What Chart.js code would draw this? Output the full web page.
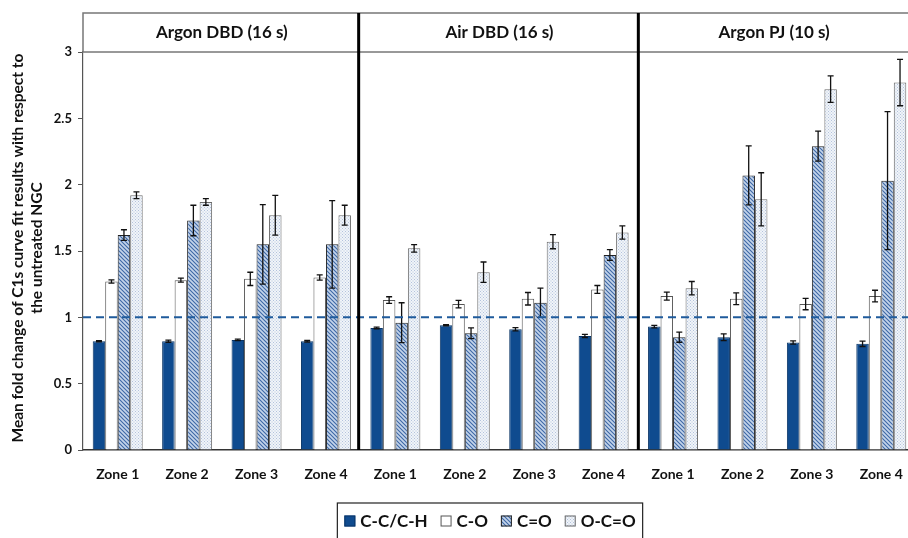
<!DOCTYPE html>
<html>
<head>
<meta charset="utf-8">
<script src="https://cdn.jsdelivr.net/npm/chart.js@4.4.1/dist/chart.umd.min.js"></script>
<style>
  html, body { margin: 0; padding: 0; background: #fff; overflow: hidden; }
  #contenedor { width: 918px; height: 538px; }
</style>
</head>
<body>
<div id="contenedor"><canvas id="grafica"></canvas></div>
<script>
// categorias (3 paneles x 4 zonas)
const zonas = ["Zone 1", "Zone 2", "Zone 3", "Zone 4",
               "Zone 1", "Zone 2", "Zone 3", "Zone 4",
               "Zone 1", "Zone 2", "Zone 3", "Zone 4"];
const paneles = ["Argon DBD (16 s)", "Air DBD (16 s)", "Argon PJ (10 s)"];
const yTicks = [0, 0.5, 1, 1.5, 2, 2.5, 3];

// valores
const ccch    = [0.82, 0.82, 0.83, 0.82, 0.92, 0.94, 0.91, 0.86, 0.93, 0.85, 0.81, 0.80];
const ccchErr = [0.005, 0.008, 0.005, 0.006, 0.006, 0.005, 0.012, 0.012, 0.01, 0.025, 0.012, 0.02];
const co      = [1.27, 1.28, 1.29, 1.30, 1.13, 1.10, 1.14, 1.21, 1.16, 1.14, 1.10, 1.16];
const coErr   = [0.012, 0.015, 0.05, 0.02, 0.025, 0.028, 0.047, 0.03, 0.03, 0.044, 0.043, 0.044];
const cdo     = [1.62, 1.73, 1.55, 1.55, 0.96, 0.88, 1.11, 1.47, 0.85, 2.07, 2.29, 2.03];
const cdoErr  = [0.04, 0.115, 0.3, 0.33, 0.15, 0.04, 0.11, 0.04, 0.038, 0.223, 0.113, 0.52];
const ocdo    = [1.92, 1.87, 1.77, 1.77, 1.52, 1.34, 1.57, 1.64, 1.22, 1.89, 2.72, 2.77];
const ocdoErr = [0.025, 0.025, 0.15, 0.075, 0.028, 0.077, 0.053, 0.05, 0.05, 0.2, 0.1, 0.175];
const referencia = 1;

const fuente = "Lato, 'Open Sans', sans-serif";

// patrones de relleno
function rayado() {
  const c = document.createElement("canvas");
  c.width = 4; c.height = 4;
  const g = c.getContext("2d");
  g.fillStyle = "#c4d4ea";
  g.fillRect(0, 0, 4, 4);
  g.strokeStyle = "#3d68a6";
  g.lineWidth = 1.1;
  g.beginPath();
  g.moveTo(-1, -1); g.lineTo(5, 5);
  g.moveTo(-1, 3); g.lineTo(1, 5);
  g.moveTo(3, -1); g.lineTo(5, 1);
  g.stroke();
  return g.createPattern(c, "repeat");
}
function punteado() {
  const c = document.createElement("canvas");
  c.width = 3; c.height = 3;
  const g = c.getContext("2d");
  g.fillStyle = "#f1f4f9";
  g.fillRect(0, 0, 3, 3);
  g.fillStyle = "#b3c3dc";
  g.fillRect(0, 0, 1, 1);
  g.fillRect(1.5, 1.5, 1, 1);
  return g.createPattern(c, "repeat");
}

const series = [
  { label: "C-C/C-H", data: ccch, err: ccchErr, fill: "#0f4b8f", border: "#0a3566" },
  { label: "C-O", data: co, err: coErr, fill: "#ffffff", border: "#555555" },
  { label: "C=O", data: cdo, err: cdoErr, fill: rayado(), border: "#222222" },
  { label: "O-C=O", data: ocdo, err: ocdoErr, fill: punteado(), border: "#6a6a6a" }
];

const extras = {
  id: "extras",
  afterDatasetsDraw(chart) {
    const ctx = chart.ctx, y = chart.scales.y, area = chart.chartArea;
    // barras de error
    ctx.save();
    ctx.strokeStyle = "#111";
    ctx.lineWidth = 1.3;
    series.forEach((s, i) => {
      const meta = chart.getDatasetMeta(i);
      meta.data.forEach((bar, j) => {
        const hi = y.getPixelForValue(s.data[j] + s.err[j]);
        const lo = y.getPixelForValue(s.data[j] - s.err[j]);
        ctx.beginPath();
        ctx.moveTo(bar.x, hi); ctx.lineTo(bar.x, lo);
        ctx.moveTo(bar.x - 3, hi); ctx.lineTo(bar.x + 3, hi);
        ctx.moveTo(bar.x - 3, lo); ctx.lineTo(bar.x + 3, lo);
        ctx.stroke();
      });
    });
    // linea punteada en 1
    const yr = y.getPixelForValue(referencia);
    ctx.strokeStyle = "#1f5b9c";
    ctx.lineWidth = 2;
    ctx.setLineDash([8, 5]);
    ctx.beginPath();
    ctx.moveTo(area.left, yr); ctx.lineTo(area.right, yr);
    ctx.stroke();
    ctx.restore();
  },
  afterDraw(chart) {
    const ctx = chart.ctx, x = chart.scales.x, area = chart.chartArea;
    const top = 13;
    ctx.save();
    // cajas de encabezado
    ctx.strokeStyle = "#777";
    ctx.lineWidth = 1.5;
    ctx.strokeRect(area.left, top, area.right - area.left + 5, area.top - top);
    const cortes = [area.left];
    for (let k = 1; k < 3; k++) {
      cortes.push((x.getPixelForValue(k * 4 - 1) + x.getPixelForValue(k * 4)) / 2);
    }
    cortes.push(area.right);
    ctx.fillStyle = "#111";
    ctx.font = "bold 17px " + fuente;
    ctx.textAlign = "center";
    ctx.textBaseline = "middle";
    paneles.forEach((p, k) => {
      ctx.fillText(p, (cortes[k] + cortes[k + 1]) / 2 - (k === 2 ? 3 : 0), (top + area.top) / 2);
    });
    // divisiones gruesas
    ctx.strokeStyle = "#000";
    ctx.lineWidth = 3;
    ctx.beginPath();
    [cortes[1] - 2, cortes[2]].forEach(cx => {
      ctx.moveTo(cx, top); ctx.lineTo(cx, area.bottom);
    });
    ctx.stroke();
    // titulo eje y
    ctx.save();
    ctx.translate(0, 248);
    ctx.rotate(-Math.PI / 2);
    ctx.font = "bold 15.5px " + fuente;
    ctx.fillText("Mean fold change of C1s curve fit results with respect to", 0, 18);
    ctx.fillText("the untreated NGC", 0, 37);
    ctx.restore();
    // leyenda
    ctx.font = "bold 17px " + fuente;
    ctx.textAlign = "left";
    const caja = 11, sep = 5, hueco = 13;
    let ancho = 0;
    series.forEach(s => { ancho += caja + sep + ctx.measureText(s.label).width + hueco; });
    ancho -= hueco;
    let lx = 490 - ancho / 2;
    const ly = 521;
    ctx.strokeStyle = "#222";
    ctx.lineWidth = 1.2;
    ctx.strokeRect(lx - 7, 503, ancho + 14, 40);
    series.forEach(s => {
      ctx.fillStyle = s.fill;
      ctx.fillRect(lx, ly - caja / 2, caja, caja);
      ctx.strokeStyle = s.border;
      ctx.lineWidth = 1;
      ctx.strokeRect(lx + 0.5, ly - caja / 2 + 0.5, caja - 1, caja - 1);
      ctx.fillStyle = "#111";
      ctx.fillText(s.label, lx + caja + sep, ly + 1);
      lx += caja + sep + ctx.measureText(s.label).width + hueco;
    });
    ctx.restore();
  }
};

new Chart("grafica", {
  type: "bar",
  data: {
    labels: zonas,
    datasets: series.map(s => ({
      label: s.label,
      data: s.data,
      backgroundColor: s.fill,
      borderColor: s.border,
      borderWidth: 1,
      barPercentage: 1,
      categoryPercentage: 0.72
    }))
  },
  options: {
    responsive: true,
    maintainAspectRatio: false,
    animation: false,
    layout: { padding: { top: 52, bottom: 53, left: 0, right: 2 } },
    plugins: { legend: { display: false }, tooltip: { enabled: false } },
    scales: {
      x: {
        grid: { display: false },
        border: { display: true, color: "#333", width: 1.5 },
        ticks: { color: "#111", font: { family: fuente, size: 14, weight: "bold" }, padding: 8 },
        afterFit(scale) { scale.height = 35; }
      },
      y: {
        min: 0,
        max: 3,
        afterBuildTicks(scale) { scale.ticks = yTicks.map(v => ({ value: v })); },
        grid: { drawOnChartArea: false, drawTicks: true, tickLength: 5, color: "#555" },
        border: { display: true, color: "#555", width: 1.2 },
        ticks: {
          color: "#111",
          font: { family: fuente, size: 13, weight: "bold" },
          padding: 6,
          callback: v => String(v)
        },
        afterFit(scale) { scale.width = 83; }
      }
    }
  },
  plugins: [extras]
});
</script>
</body>
</html>
